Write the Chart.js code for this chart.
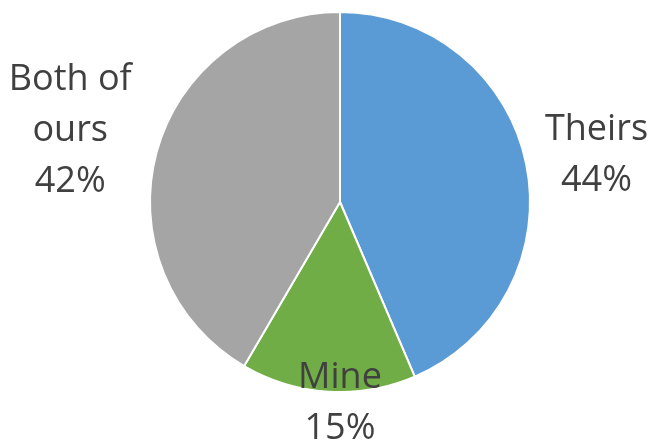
<!DOCTYPE html>
<html>
<head>
<meta charset="utf-8">
<script src="https://cdn.jsdelivr.net/npm/chart.js@4/dist/chart.umd.min.js"></script>
<style>
  html, body { margin: 0; padding: 0; background: #fff; }
  #wrap { width: 653px; height: 443px; }
</style>
</head>
<body>
<div id="wrap"><canvas id="pieChart"></canvas></div>
<script>
const labels = ['Theirs', 'Mine', 'Both of ours'];
const shares = [44, 15, 42];
const colors = ['#5B9BD5', '#70AD47', '#A5A5A5'];

// text lines for each slice label, and where they sit (in units of the radius)
const labelLines = [['Theirs', '44%'], ['Mine', '15%'], ['Both of', 'ours', '42%']];
const labelSpots = [[1.35, -0.245], [0, 1.058], [-1.42, -0.375]];

const sliceLabels = {
  id: 'sliceLabels',
  afterDraw(chart) {
    const ctx = chart.ctx;
    const arcs = chart.getDatasetMeta(0).data;
    ctx.save();
    ctx.font = '36px "Open Sans"';
    ctx.fillStyle = '#404040';
    ctx.textAlign = 'center';
    ctx.textBaseline = 'middle';
    arcs.forEach((arc, i) => {
      const r = arc.outerRadius;
      const cx = arc.x + labelSpots[i][0] * r;
      const cy = arc.y + labelSpots[i][1] * r;
      const lines = labelLines[i];
      const lh = 51;
      lines.forEach((t, j) => {
        ctx.fillText(t, cx, cy + (j - (lines.length - 1) / 2) * lh);
      });
    });
    ctx.restore();
  }
};

new Chart(document.getElementById('pieChart'), {
  type: 'pie',
  data: {
    labels: labels,
    datasets: [{
      data: shares,
      backgroundColor: colors,
      borderColor: '#fff',
      borderWidth: 2,
      hoverOffset: 0
    }]
  },
  options: {
    responsive: true,
    maintainAspectRatio: false,
    animation: false,
    layout: { padding: { left: 149, right: 122, top: 11, bottom: 50 } },
    plugins: {
      legend: { display: false },
      tooltip: { enabled: false }
    }
  },
  plugins: [sliceLabels]
});
</script>
</body>
</html>
